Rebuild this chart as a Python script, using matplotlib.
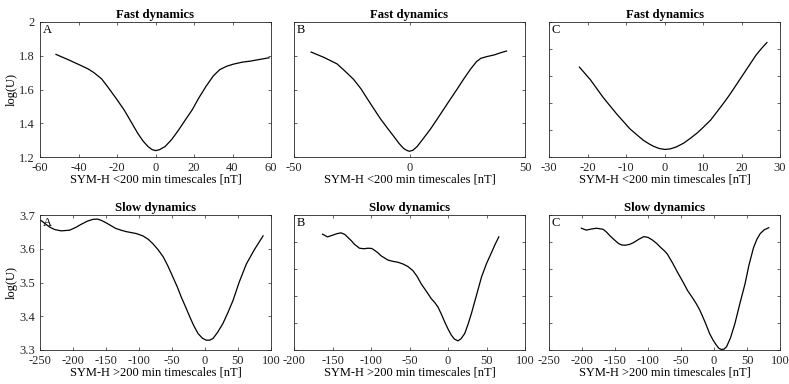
import matplotlib
matplotlib.use('Agg')
import matplotlib.pyplot as plt

plt.rcParams['font.family'] = ['Liberation Serif', 'DejaVu Serif']
plt.rcParams['axes.unicode_minus'] = False

# Fast dynamics (SYM-H < 200 min timescales)
fast_a_x = [-51.7, -45.0, -39.3, -35.0, -32.0, -28.0, -25.1, -20.5, -16.3, -12.5, -9.2, -6.5, -3.9, -1.8, 0.0,
            2.0, 5.0, 8.5, 12.0, 15.5, 19.1, 22.5, 26.2, 30.0, 33.3, 37.0, 40.4, 45.0, 49.2, 54.0, 59.0]
fast_a_y = [1.808, 1.775, 1.745, 1.722, 1.700, 1.663, 1.620, 1.548, 1.479, 1.405, 1.340, 1.295, 1.262, 1.244, 1.238,
            1.243, 1.262, 1.305, 1.360, 1.420, 1.480, 1.550, 1.618, 1.680, 1.717, 1.738, 1.750, 1.762, 1.768, 1.778, 1.788]

fast_b_x = [-42.6, -37.0, -31.4, -28.0, -24.2, -21.0, -18.4, -15.5, -12.6, -9.5, -6.8, -4.5, -2.5, -1.0, 0.0,
            1.5, 3.3, 6.0, 9.1, 12.0, 14.9, 17.8, 20.7, 23.6, 26.5, 29.0, 30.9, 33.5, 36.7, 39.5, 42.0]
fast_b_y = [1.822, 1.790, 1.752, 1.710, 1.660, 1.604, 1.548, 1.487, 1.427, 1.370, 1.322, 1.280, 1.250, 1.238, 1.234,
            1.240, 1.262, 1.310, 1.366, 1.425, 1.485, 1.545, 1.604, 1.665, 1.722, 1.765, 1.785, 1.795, 1.805, 1.818, 1.828]

fast_c_x = [-22.1, -19.3, -15.9, -12.4, -9.0, -7.0, -5.5, -4.0, -2.9, -1.5, 0.0, 1.5, 3.1, 5.0, 6.6, 8.5,
            10.1, 12.0, 13.5, 15.3, 17.0, 18.7, 20.4, 22.1, 23.8, 25.2, 26.6]
fast_c_y = [1.866, 1.774, 1.640, 1.518, 1.409, 1.360, 1.324, 1.297, 1.280, 1.264, 1.256, 1.260, 1.275, 1.303, 1.336, 1.378,
            1.421, 1.474, 1.530, 1.597, 1.664, 1.737, 1.810, 1.883, 1.956, 2.004, 2.048]

# Slow dynamics (SYM-H > 200 min timescales)
slow_a_x = [-248.5, -242.0, -236.0, -228.0, -218.0, -205.0, -196.0, -188.0, -178.0, -170.0, -163.0, -157.0, -150.0,
            -142.0, -135.0, -127.0, -120.0, -112.0, -104.0, -94.0, -86.0, -79.0, -71.0, -63.0, -56.0, -48.6, -42.0,
            -36.0, -29.5, -23.0, -17.0, -10.6, -4.0, 2.0, 7.0, 12.0, 19.0, 27.0, 35.0, 42.5, 52.0, 62.7, 75.0, 88.0]
slow_a_y = [3.684, 3.674, 3.665, 3.657, 3.653, 3.655, 3.663, 3.672, 3.682, 3.687, 3.688, 3.684, 3.677,
            3.668, 3.660, 3.655, 3.651, 3.648, 3.645, 3.638, 3.628, 3.615, 3.597, 3.575, 3.548, 3.516, 3.487,
            3.457, 3.428, 3.398, 3.372, 3.349, 3.335, 3.329, 3.329, 3.334, 3.352, 3.378, 3.412, 3.447, 3.502, 3.555, 3.598, 3.638]

slow_b_x = [-163.0, -156.5, -150.0, -144.0, -139.0, -134.0, -130.0, -125.0, -121.7, -115.0, -109.0, -104.0, -99.0,
            -95.7, -91.0, -87.0, -78.0, -71.0, -65.0, -58.0, -52.0, -45.6, -40.0, -34.8, -28.0, -21.7, -17.0, -13.0,
            -8.5, -4.3, 0.0, 4.3, 8.5, 13.0, 17.0, 21.7, 26.0, 30.4, 37.0, 43.5, 50.0, 56.5, 61.0, 66.0]
slow_b_y = [3.729, 3.719, 3.725, 3.731, 3.734, 3.728, 3.717, 3.703, 3.692, 3.677, 3.675, 3.677, 3.676,
            3.670, 3.660, 3.649, 3.633, 3.628, 3.625, 3.618, 3.609, 3.594, 3.572, 3.545, 3.517, 3.490, 3.475, 3.459,
            3.432, 3.404, 3.378, 3.355, 3.340, 3.334, 3.342, 3.361, 3.395, 3.435, 3.503, 3.570, 3.620, 3.661, 3.690, 3.719]

slow_c_x = [-201.0, -193.5, -186.0, -178.0, -168.0, -163.0, -157.6, -151.0, -145.0, -140.0, -134.6, -128.0, -121.8,
            -114.0, -106.4, -100.0, -93.7, -87.0, -80.9, -75.0, -70.6, -63.0, -55.3, -47.0, -40.0, -33.0, -27.0,
            -22.0, -17.0, -12.0, -6.7, -1.5, 3.6, 7.5, 11.3, 15.0, 19.0, 25.0, 31.7, 39.0, 47.0, 53.0, 60.0, 65.0,
            70.0, 76.0, 83.0]
slow_c_y = [3.751, 3.744, 3.748, 3.751, 3.747, 3.737, 3.723, 3.708, 3.695, 3.689, 3.688, 3.691, 3.698,
            3.710, 3.720, 3.717, 3.708, 3.695, 3.680, 3.667, 3.655, 3.623, 3.588, 3.552, 3.520, 3.495, 3.472,
            3.450, 3.423, 3.394, 3.361, 3.337, 3.318, 3.306, 3.302, 3.303, 3.312, 3.345, 3.398, 3.470, 3.545, 3.615, 3.680, 3.710,
            3.731, 3.745, 3.753]

fast_xlabel = 'SYM-H <200 min timescales [nT]'
slow_xlabel = 'SYM-H >200 min timescales [nT]'

panels = [
    # x, y, xlim, xticks, ylim, yticks, title, letter, xlabel
    (fast_a_x, fast_a_y, (-60, 60), range(-60, 61, 20), (1.2, 2.0), [1.2, 1.4, 1.6, 1.8, 2.0], 'Fast dynamics', 'A', fast_xlabel),
    (fast_b_x, fast_b_y, (-50, 50), [-50, 0, 50], (1.2, 2.0), [1.2, 1.4, 1.6, 1.8, 2.0], 'Fast dynamics', 'B', fast_xlabel),
    (fast_c_x, fast_c_y, (-30, 30), range(-30, 31, 10), (1.2, 2.2), [1.2, 1.4, 1.6, 1.8, 2.0, 2.2], 'Fast dynamics', 'C', fast_xlabel),
    (slow_a_x, slow_a_y, (-250, 100), range(-250, 101, 50), (3.3, 3.7), [3.3, 3.4, 3.5, 3.6, 3.7], 'Slow dynamics', 'A', slow_xlabel),
    (slow_b_x, slow_b_y, (-200, 100), range(-200, 101, 50), (3.3, 3.8), [3.3, 3.4, 3.5, 3.6, 3.7, 3.8], 'Slow dynamics', 'B', slow_xlabel),
    (slow_c_x, slow_c_y, (-250, 100), range(-250, 101, 50), (3.3, 3.8), [3.3, 3.4, 3.5, 3.6, 3.7, 3.8], 'Slow dynamics', 'C', slow_xlabel),
]

W, H = 789, 384
fig = plt.figure(figsize=(W / 100, H / 100), dpi=100)

lefts = [40, 294, 549]
tops = [22, 215]
ax_w, ax_h = 231, 135

for i, (x, y, xlim, xticks, ylim, yticks, title, letter, xlabel) in enumerate(panels):
    row, col = divmod(i, 3)
    l = lefts[col] / W
    b = 1 - (tops[row] + ax_h) / H
    ax = fig.add_axes([l, b, ax_w / W, ax_h / H])
    ax.plot(x, y, color='black', linewidth=0.9)
    ax.set_xlim(*xlim)
    ax.set_ylim(*ylim)
    ax.set_xticks(list(xticks))
    ax.set_yticks(yticks)
    ax.tick_params(direction='in', top=True, right=True, length=2.5, width=0.5,
                   labelsize=9, colors='#262626', pad=3.5)
    if col == 0:
        ax.set_yticklabels(['%g' % t for t in yticks])
        ax.set_ylabel('log(U)', fontsize=9, labelpad=1)
    else:
        ax.set_yticklabels([])
    for s in ax.spines.values():
        s.set_linewidth(0.6)
        s.set_color('#262626')
    ax.set_title(title, fontsize=9.2, fontweight='bold', pad=3)
    ax.set_xlabel(xlabel, fontsize=9, labelpad=0)
    ax.text(0.012, 0.985, letter, transform=ax.transAxes, ha='left', va='top', fontsize=9)

fig.savefig('out.png', dpi=100)
